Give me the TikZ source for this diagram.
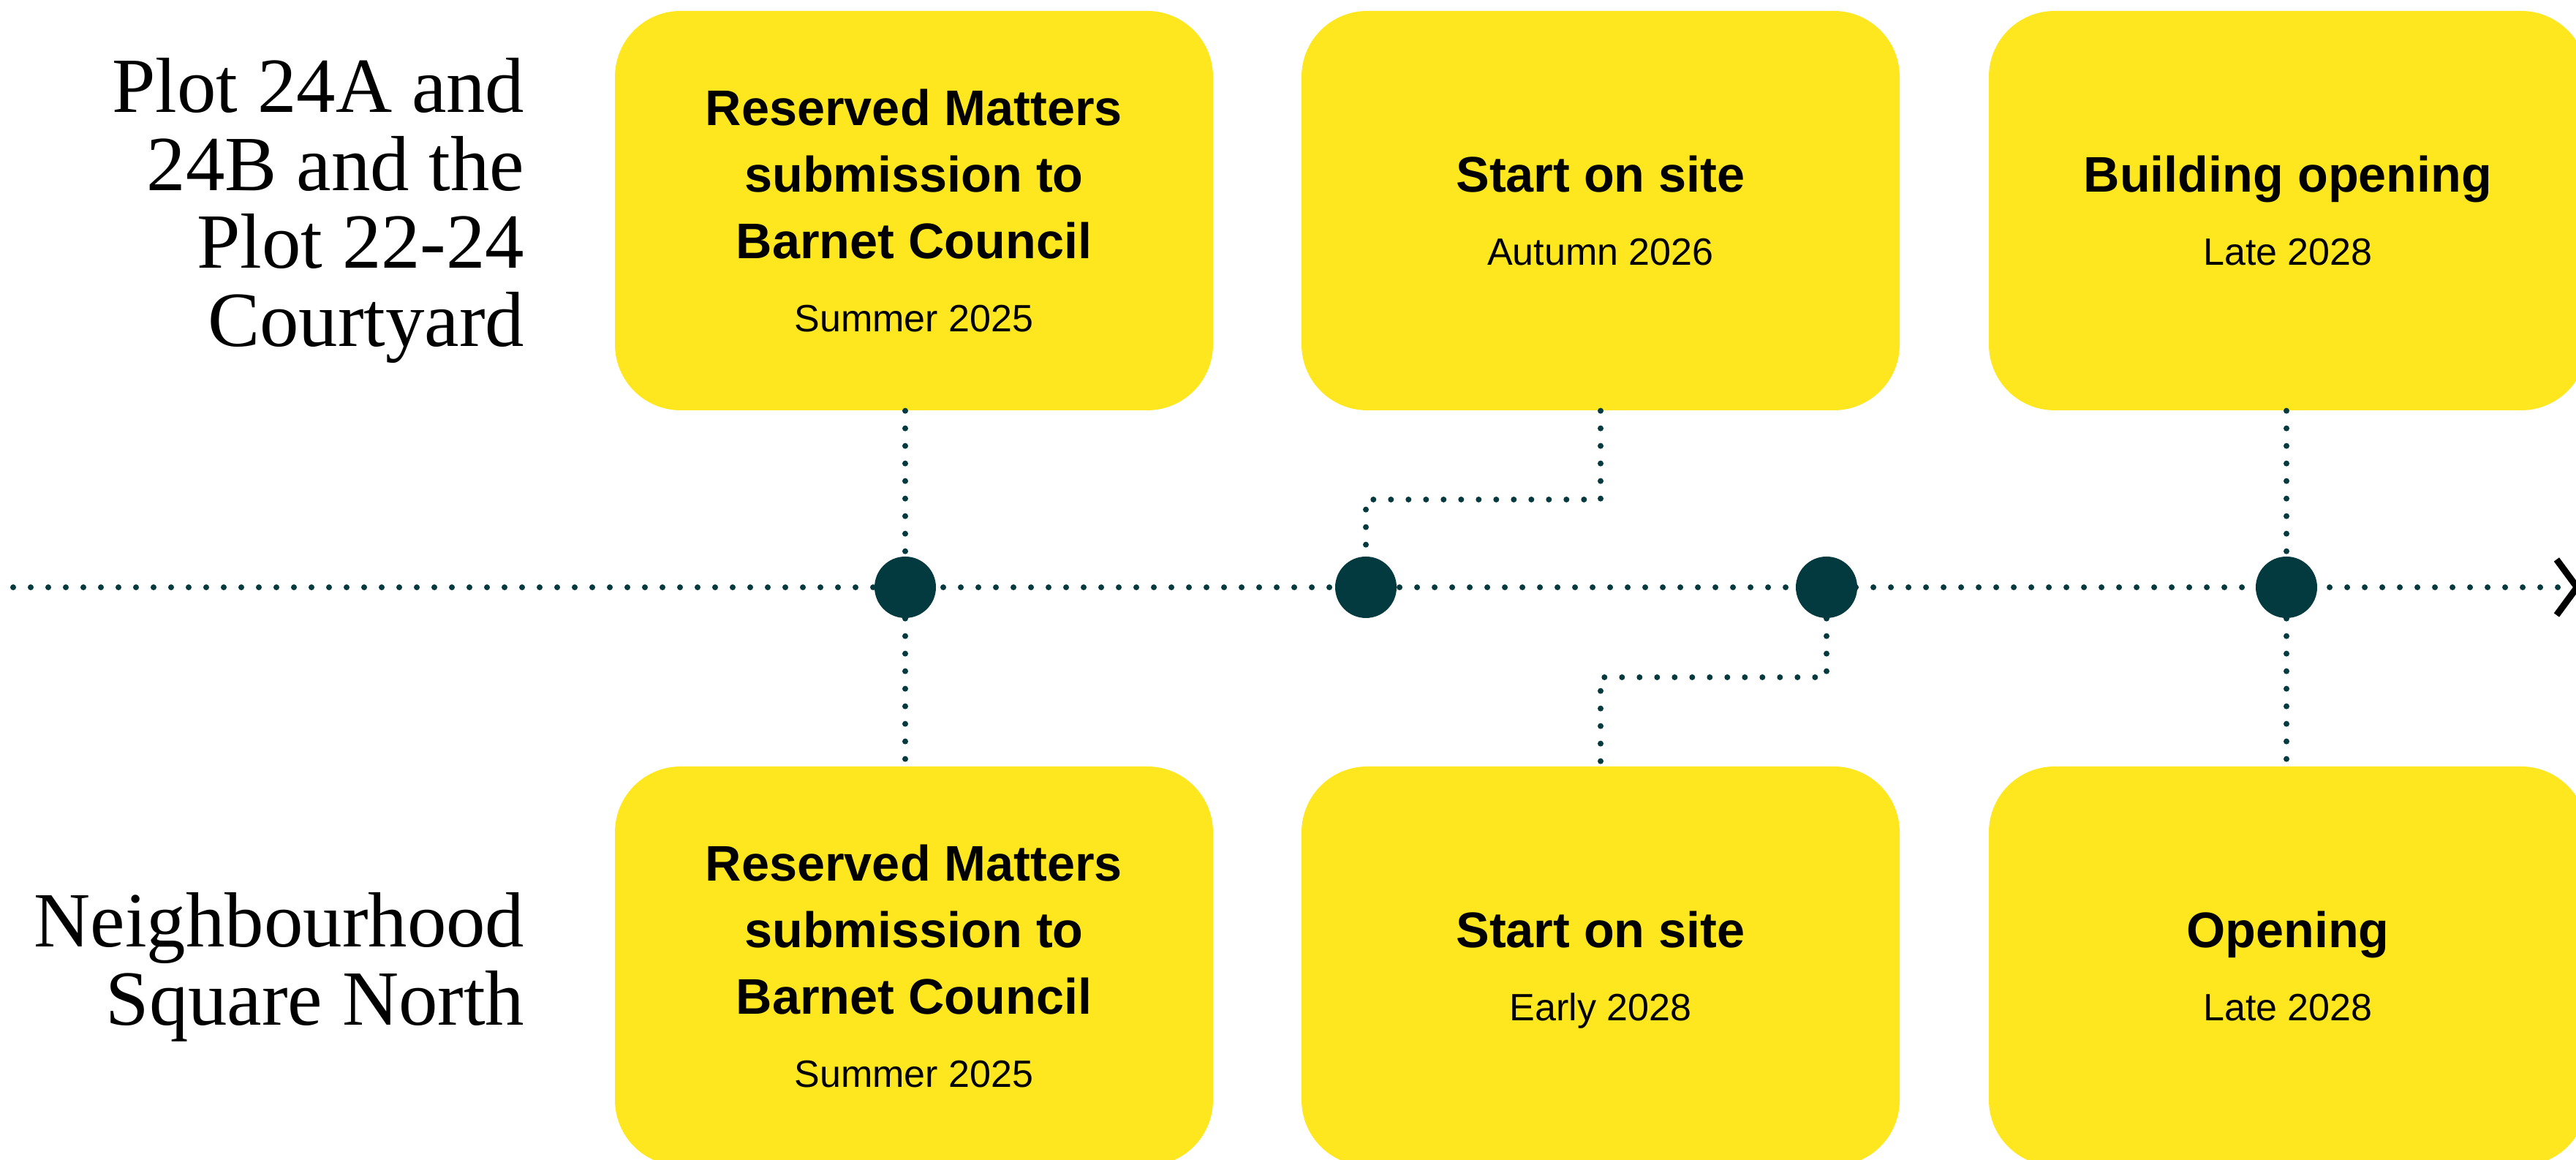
\documentclass[tikz,border=0pt]{standalone}
\usepackage{fontspec}
\setmainfont{Liberation Sans}
\newfontfamily\plotfont{Liberation Serif}
\usepackage{xcolor}
\usepackage{tikz}
\usetikzlibrary{calc,arrows.meta}

\definecolor{milestoneyellow}{HTML}{FEE71F}
\definecolor{timelineteal}{HTML}{023A40}

\tikzset{
	milestone/.style={fill=milestoneyellow, rounded corners=0.9cm, minimum width=8.18cm, minimum height=5.46cm,
		inner sep=0pt, align=center, font=\fontsize{19.46}{25.9}\selectfont\bfseries},
	tline/.style={draw=timelineteal, line width=0.08cm, line cap=round, dash pattern=on 0pt off 0.24cm},
	event/.style={circle, fill=timelineteal, minimum size=0.84cm, inner sep=0pt},
	plotlabel/.style={anchor=east, align=right, inner sep=0pt, font=\plotfont\fontsize{30.4}{30.4}\selectfont},
}
\newcommand{\when}[1]{{\fontsize{14.8}{17.8}\selectfont\mdseries\smash{#1}}}

\begin{document}
\begin{tikzpicture}
		\useasboundingbox (0,0) rectangle (35.23,15.86);
		% row labels
		\node[plotlabel] (row-top) at (7.18,12.98) {Plot 24A and\\24B and the\\Plot 22-24\\Courtyard};
		\node[plotlabel] (row-bottom) at (7.18,2.64) {Neighbourhood\\Square North};
		% upper milestones
		\node[milestone] (t1) at (12.50,12.98) {Reserved Matters\\submission to\\Barnet Council\\[0.09cm]\when{Summer 2025}};
		\node[milestone] (t2) at (21.89,12.98) {Start on site\\[0.09cm]\when{Autumn 2026}};
		\node[milestone] (t3) at (31.29,12.98) {Building opening\\[0.09cm]\when{Late 2028}};
		% lower milestones
		\node[milestone] (b1) at (12.50,2.65) {Reserved Matters\\submission to\\Barnet Council\\[0.09cm]\when{Summer 2025}};
		\node[milestone] (b2) at (21.89,2.65) {Start on site\\[0.09cm]\when{Early 2028}};
		\node[milestone] (b3) at (31.29,2.65) {Opening\\[0.09cm]\when{Late 2028}};
		% dots on the line
		\foreach \x [count=\i] in {12.38,18.68,24.98,31.27}
			\node[event] (dot\i) at (\x,7.83) {};
		% timeline
		\coordinate (tl-start) at (0.18,7.83);
		\coordinate (tl-end) at (35.30,7.83);
		\draw[tline, -{Straight Barb[color=black, length=0.28cm, width=0.76cm, line width=0.09cm]}] (tl-start) -- (tl-end);
		% links to the boxes
		\coordinate (k2) at ([yshift=1.20cm]dot2.center);
		\coordinate (k3) at ([yshift=-1.23cm]dot3.center);
		\draw[tline] (t1.south -| dot1) -- (dot1);
		\draw[tline] (dot1) -- (b1.north -| dot1);
		\draw[tline] (t2.south) |- (k2) -- (dot2);
		\draw[tline] (dot3) -- (k3) -| (b2.north);
		\draw[tline] (t3.south -| dot4) -- (dot4);
		\draw[tline] (dot4) -- (b3.north -| dot4);
	\end{tikzpicture}
\end{document}
